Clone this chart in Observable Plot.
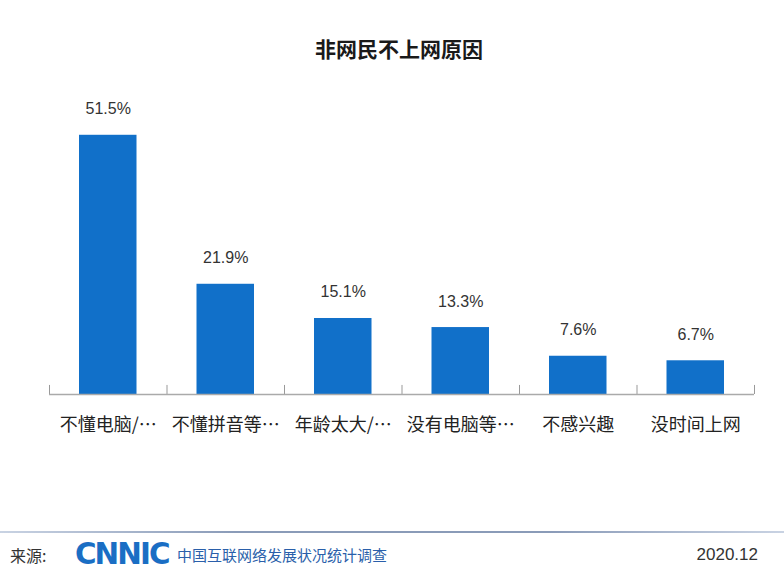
<!DOCTYPE html>
<html><head><meta charset="utf-8">
<script src="https://cdn.jsdelivr.net/npm/d3@7"></script>
<script src="https://cdn.jsdelivr.net/npm/@observablehq/plot@0.6"></script>
<style>
body{margin:0;background:#fff;width:784px;height:577px;overflow:hidden;position:relative;font-family:"Noto Sans CJK SC","Noto Sans",sans-serif;}
#title{position:absolute;left:0;top:0;width:784px;height:80px;text-align:center;line-height:96px;font-size:21px;font-weight:bold;color:#1a1a1a;padding-left:14px;box-sizing:border-box;}
#chart{position:absolute;left:0;top:80px;}
#sep{position:absolute;left:0;top:531px;width:784px;height:2px;background:linear-gradient(to right,#c9d3e3,#8a9bb8 30%,#8a9bb8 70%,#c9d3e3);}
#src{position:absolute;left:10px;top:542px;font-size:16px;color:#333;line-height:26px;}
#logo{position:absolute;left:75px;top:536px;font-family:"DejaVu Sans",sans-serif;font-weight:900;font-size:30px;color:#1a6ec4;line-height:36px;letter-spacing:-2px;transform:scaleX(0.98);transform-origin:left;}
#org{position:absolute;left:177px;top:543px;font-size:15px;color:#2a5faa;line-height:24px;}
#date{position:absolute;right:26px;top:542px;font-size:17px;color:#333;line-height:26px;font-family:"Liberation Sans",sans-serif;}
</style></head>
<body>
<div id="title">非网民不上网原因</div>
<div id="chart"></div>
<div id="sep"></div>
<div id="src">来源:</div>
<div id="logo">CNNIC</div>
<div id="org">中国互联网络发展状况统计调查</div>
<div id="date">2020.12</div>
<script>
const categories = ["不懂电脑/…","不懂拼音等…","年龄太大/…","没有电脑等…","不感兴趣","没时间上网"];
const values = [51.5, 21.9, 15.1, 13.3, 7.6, 6.7];
const boundaries = [0,1,2,3,4,5,6];

const data = categories.map((c,i)=>({c, i, v: values[i]}));

const chart = Plot.plot({
  width: 784,
  height: 380,
  marginLeft: 49,
  marginRight: 30,
  marginTop: 12,
  marginBottom: 66,
  x: {domain:[0,6], axis:null},
  y: {domain:[0,60], axis:null},
  marks: [
    Plot.rectY(data, {x1: d=>d.i, x2: d=>d.i+1, y: "v", fill: "#1170c9", insetLeft: 30, insetRight: 30}),
    Plot.ruleX(boundaries, {x: d=>d, y1: 0, y2: 1.8, stroke: "#999", strokeWidth: 1}),
    Plot.ruleY([0], {stroke: "#aaa", strokeWidth: 1.5}),
    Plot.text(data, {x: d=>d.i+0.5, y: "v", text: d=>d.v.toFixed(1)+"%", dy: -21, lineAnchor: "bottom", fontSize: 16, fill: "#333", fontFamily: "Liberation Sans, Arial, sans-serif"}),
    Plot.text(data, {x: d=>d.i+0.5, y: 0, text: "c", dy: 31, lineAnchor: "middle", fontSize: 18, fill: "#222", fontFamily: "Noto Sans CJK SC, sans-serif"})
  ]
});
document.getElementById("chart").appendChild(chart);
</script>
</body></html>
